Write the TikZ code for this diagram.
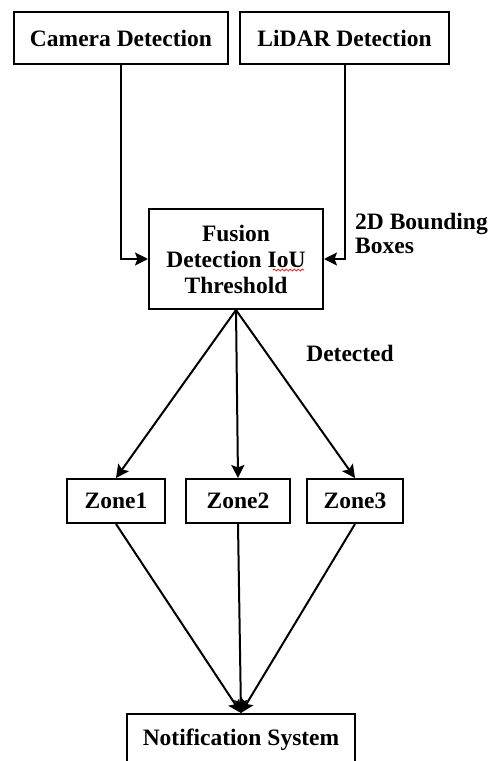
\documentclass[tikz,border=0pt]{standalone}
\usepackage{fontspec}
\setmainfont{Liberation Serif}
\usetikzlibrary{arrows.meta,decorations.pathmorphing}
\begin{document}
\begin{tikzpicture}[x=1pt,y=-1pt,
  box/.style={draw,line width=2pt,minimum height=52pt,inner sep=0pt,
    font=\fontsize{23.5}{26}\selectfont\bfseries,align=center},
  zonebox/.style={box,minimum height=44pt},
  lbl/.style={font=\fontsize{23.5}{24}\selectfont\bfseries,inner sep=0pt},
  link/.style={line width=2pt},
  arr/.style={link,-{Stealth[length=13pt,width=13pt,inset=2.5pt]}}]
\useasboundingbox (0,0) rectangle (492,761);
\clip (0,0) rectangle (492,761);

% source boxes
\node[box,minimum width=214pt] (cam) at (121,38) {Camera Detection};
\node[box,minimum width=209pt] (lidar) at (344.5,38) {LiDAR Detection};

% fusion stage
\node[box,minimum width=174pt,minimum height=100pt] (fusion) at (236,259)
  {Fusion\\Detection IoU\\Threshold};
\coordinate (squigA) at (273,270);
\coordinate (squigB) at (304,270);
\draw[red,line width=0.7pt,decorate,decoration={snake,amplitude=1pt,segment length=4pt}]
  (squigA) -- (squigB);

% zones
\node[zonebox,minimum width=98pt] (z1) at (116,501) {Zone1};
\node[zonebox,minimum width=104pt] (z2) at (238,501) {Zone2};
\node[zonebox,minimum width=96pt] (z3) at (355,501) {Zone3};

% notification
\node[box,minimum width=228pt] (notif) at (241,740) {Notification System};

% labels
\node[lbl,anchor=west,align=left] (bb) at (355,233) {2D Bounding\\Boxes};
\node[lbl] (det) at (350,353) {Detected};

% connectors
\draw[arr] (cam.south) |- (fusion.west);
\draw[arr] (lidar.south) |- (fusion.east);
\draw[arr] (fusion.south) -- (z1.north);
\draw[arr] (fusion.south) -- (z2.north);
\draw[arr] (fusion.south) -- (z3.north);
\draw[arr] (z1.south) -- (notif.north);
\draw[arr] (z2.south) -- (notif.north);
\draw[arr] (z3.south) -- (notif.north);
\end{tikzpicture}
\end{document}
